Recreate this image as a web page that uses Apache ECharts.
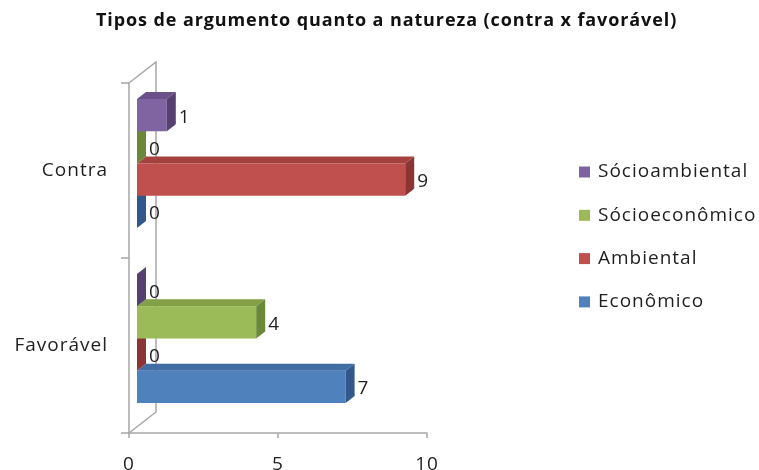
<!DOCTYPE html>
<html>
<head>
<meta charset="utf-8">
<script src="https://cdn.jsdelivr.net/npm/echarts@6/dist/echarts.min.js"></script>
<style>html,body{margin:0;padding:0;background:#fff}#c{width:759px;height:470px}</style>
</head>
<body>
<div id="c"></div>
<script>
const categories = ['Favorável', 'Contra'];
const seriesNames = ['Econômico', 'Ambiental', 'Sócioeconômico', 'Sócioambiental'];
const economico = [7, 0];
const ambiental = [0, 9];
const socioeconomico = [4, 0];
const socioambiental = [0, 1];
const xMin = 0, xMax = 10, xInterval = 5;

// Slightly wider glyph spacing, like the Calibri/ClearType text of the original
(function () {
  const proto = CanvasRenderingContext2D.prototype;
  const orig = proto.fillText;
  proto.fillText = function (t, x, y, mw) {
    const f = this.font || '';
    if ('letterSpacing' in this) this.letterSpacing = /bold|700/.test(f) ? '0.9px' : '1px';
    return mw === undefined ? orig.call(this, t, x, y) : orig.call(this, t, x, y, mw);
  };
})();

const allValues = [economico, ambiental, socioeconomico, socioambiental];
const palette = [
  {front: '#4F81BD', top: '#406DA3', side: '#32578A'},
  {front: '#C0504D', top: '#A5423F', side: '#8A3533'},
  {front: '#9BBB59', top: '#82A047', side: '#6B8838'},
  {front: '#8064A2', top: '#6A5189', side: '#55406F'}
];
const FONT = 'Open Sans';
const FS = 19;
const FW = 500;
const TXT = '#1f1f1f';

function makeRender(k) {
  const col = palette[k];
  return function (params, api) {
    const v = api.value(0);
    const i = api.value(1);
    const c0 = api.coord([0, i]);
    const c1 = api.coord([v, i]);
    const band = api.size([0, 1])[1];
    const bh = band * 0.184;
    const yc = c0[1] - 7;
    const bottom = yc + 2 * bh - k * bh;
    const top = bottom - bh;
    const x0 = c0[0] + 8, x1 = c1[0] + 8;
    const dx = 9, dy = 7;
    const children = [];
    if (x1 > x0) {
      children.push({type: 'rect', shape: {x: x0, y: top, width: x1 - x0, height: bh},
        style: {fill: col.front}});
      children.push({type: 'polygon', shape: {points: [[x0, top], [x1, top], [x1 + dx, top - dy], [x0 + dx, top - dy]]},
        style: {fill: col.top}});
    }
    children.push({type: 'polygon', shape: {points: [[x1, top], [x1 + dx, top - dy], [x1 + dx, bottom - dy], [x1, bottom]]},
      style: {fill: col.side}});
    children.push({type: 'text', style: {text: String(v), x: x1 + dx + 3, y: (top + bottom) / 2 + 2,
      verticalAlign: 'middle', align: 'left', fill: TXT, fontSize: FS, fontWeight: FW, fontFamily: FONT}});
    return {type: 'group', children: children};
  };
}

function renderWall(params, api) {
  const cs = params.coordSys;
  const dx = 27, dy = 21;
  const x = cs.x, yT = cs.y, yB = cs.y + cs.height;
  const st = {stroke: '#A6A6A6', lineWidth: 1.5, fill: null};
  return {type: 'group', children: [
    {type: 'polyline', shape: {points: [[x, yT], [x + dx, yT - dy], [x + dx, yB - dy], [x, yB]]}, style: st}
  ]};
}

const series = [{
  type: 'custom', name: '_wall', renderItem: renderWall, data: [[0, 0]],
  encode: {x: 0, y: 1}, silent: true, z: 1, clip: false
}];
allValues.forEach(function (vals, k) {
  series.push({
    type: 'custom', name: seriesNames[k], renderItem: makeRender(k),
    data: vals.map(function (v, i) { return [v, i]; }),
    encode: {x: 0, y: 1}, itemStyle: {color: palette[k].front}, clip: false, z: 2
  });
});

const chart = echarts.init(document.getElementById('c'), null, {renderer: 'canvas'});
chart.setOption({
  animation: false,
  backgroundColor: '#fff',
  textStyle: {fontFamily: FONT},
  title: {
    text: 'Tipos de argumento quanto a natureza (contra x favorável)',
    left: 96, top: 12, padding: 0,
    textStyle: {fontFamily: FONT, fontWeight: 'bold', fontSize: 18, color: '#111'}
  },
  legend: {
    orient: 'vertical', left: 579, top: 162.5, padding: 0,
    data: seriesNames.slice().reverse(),
    icon: 'rect', itemWidth: 11, itemHeight: 11, itemGap: 24.3,
    textStyle: {fontFamily: FONT, fontSize: FS, fontWeight: FW, lineHeight: 19, color: TXT, padding: [0, 0, 0, 3]}
  },
  grid: {left: 129, top: 83, width: 298, height: 350, containLabel: false, outerBoundsMode: 'none'},
  xAxis: {
    type: 'value', min: xMin, max: xMax, interval: xInterval,
    axisLine: {show: true, lineStyle: {color: '#A6A6A6', width: 1.5}},
    axisTick: {show: true, length: 5, lineStyle: {color: '#A6A6A6', width: 1.5}},
    splitLine: {show: false},
    axisLabel: {fontFamily: FONT, fontSize: FS, fontWeight: FW, color: TXT, margin: 22}
  },
  yAxis: {
    type: 'category', data: categories,
    axisLine: {show: true, lineStyle: {color: '#A6A6A6', width: 1.5}},
    axisTick: {show: true, length: 8, lineStyle: {color: '#A6A6A6', width: 1.5}},
    axisLabel: {fontFamily: FONT, fontSize: FS, fontWeight: FW, color: TXT, margin: 21, padding: [10, 0, 0, 0]}
  },
  series: series
});
</script>
</body>
</html>
